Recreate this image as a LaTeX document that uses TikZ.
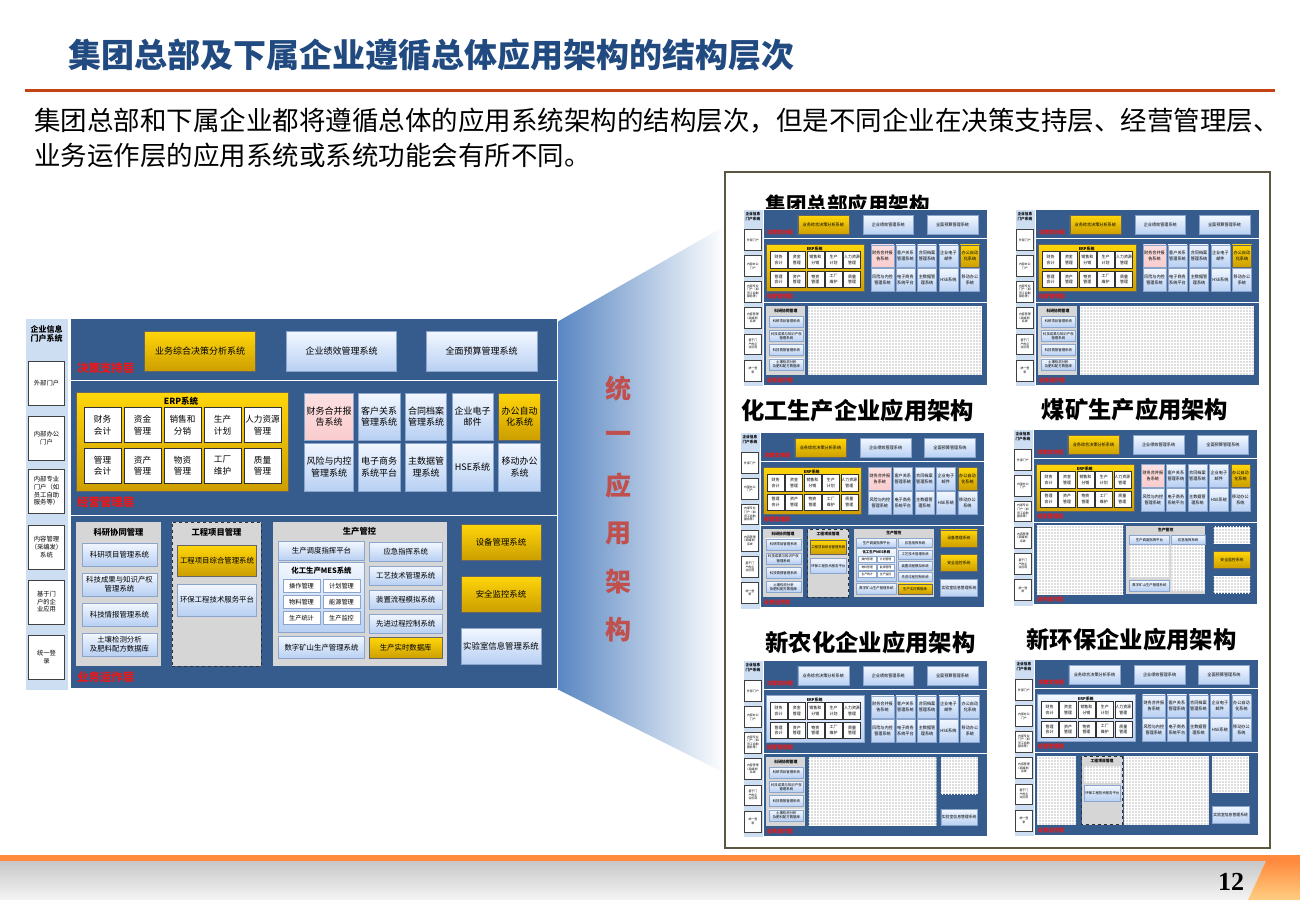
\documentclass[tikz,border=0pt]{standalone}
\usepackage{fontspec}
\setmainfont{Noto Sans CJK SC}
\newfontfamily\numfont{Liberation Serif}
\usetikzlibrary{shapes,arrows,patterns}

\definecolor{titleblue}{RGB}{33,74,128}
\definecolor{rulered}{RGB}{196,66,18}
\definecolor{panelblue}{RGB}{54,92,141}
\definecolor{stripblue}{RGB}{205,222,243}
\definecolor{boxtop}{RGB}{242,247,255}
\definecolor{boxbot}{RGB}{184,208,243}
\definecolor{boxedge}{RGB}{140,165,205}
\definecolor{goldtop}{RGB}{255,214,10}
\definecolor{goldbot}{RGB}{204,158,0}
\definecolor{pinkfill}{RGB}{250,204,206}
\definecolor{groupgrey}{RGB}{214,214,214}
\definecolor{layerred}{RGB}{232,24,24}
\definecolor{wedgeblue}{RGB}{88,134,194}
\definecolor{slogan}{RGB}{192,80,77}
\definecolor{framecol}{RGB}{92,86,66}
\definecolor{footorange}{RGB}{255,138,62}
\definecolor{footlight}{RGB}{255,206,130}

\tikzstyle{panelbox} = [rectangle, draw=white, line width=1, fill=panelblue, inner sep=0]
\tikzstyle{stripbox} = [rectangle, fill=stripblue, draw=white, inner sep=0]
\tikzstyle{portalbox} = [rectangle, draw=black!75, fill=white, align=center, inner sep=0,
    minimum width=36, minimum height=44, font=\fontsize{6.3}{7.6}\selectfont]
\tikzstyle{sysbox} = [rectangle, draw=boxedge, top color=boxtop, bottom color=boxbot,
    align=center, inner sep=0.5, font=\fontsize{9}{11.5}\selectfont]
\tikzstyle{goldbox} = [sysbox, draw=black!60, top color=goldtop, bottom color=goldbot]
\tikzstyle{pinkbox} = [sysbox, top color=pinkfill!60, bottom color=pinkfill]
\tikzstyle{cellbox} = [rectangle, draw=black!80, fill=white, align=center, inner sep=0,
    minimum width=37, minimum height=35, font=\fontsize{8.6}{11.5}\selectfont]
\tikzstyle{groupbox} = [rectangle, fill=groupgrey, inner sep=0]
\tikzstyle{grouptitle} = [font=\bfseries\fontsize{8.3}{10}\selectfont]
\tikzstyle{layerlabel} = [anchor=base west, inner sep=0, text=layerred,
    font=\bfseries\fontsize{11.4}{12}\selectfont]
\tikzstyle{smallsys} = [font=\fontsize{7.4}{9.2}\selectfont]
\tikzstyle{midsys} = [font=\fontsize{8.4}{10}\selectfont]
\tikzstyle{hatchbox} = [rectangle, inner sep=0, preaction={fill=black!13}, pattern=grid, pattern color=white]
\tikzstyle{headline} = [anchor=base, font=\bfseries\fontsize{23.3}{26}\selectfont]

% portal column, the three layers, decision support and operation management
\newcommand{\archtop}[3]{%
  \node[stripbox, minimum width=43, minimum height=372] (#1strip) at (46.5,504) {};
  \node[align=center, font=\bfseries\fontsize{8}{9.5}\selectfont] (#1ptitle) at (46.5,334) {企业信息\\门户系统};
  \node[portalbox] (#1pa) at (46.5,383) {外部门户};
  \node[portalbox] (#1pb) at (46.5,438) {内部办公\\门户};
  \node[portalbox] (#1pc) at (46.5,491) {内部专业\\门户（如\\员工自助\\服务等）};
  \node[portalbox] (#1pd) at (46.5,547) {内容管理\\（采编发）\\系统};
  \node[portalbox] (#1pe) at (46.5,602) {基于门\\户的企\\业应用};
  \node[portalbox] (#1pf) at (46.5,657) {统一登\\录};
  \node[panelbox, minimum width=487, minimum height=62] (#1lay1) at (313.5,349) {};
  \node[panelbox, minimum width=487, minimum height=135] (#1lay2) at (313.5,447.5) {};
  \node[panelbox, minimum width=487, minimum height=173] (#1lay3) at (313.5,601.5) {};
  \node[layerlabel] (#1lab1) at (77,372.5) {决策支持层};
  \node[layerlabel] (#1lab2) at (77,506.5) {经营管理层};
  \node[layerlabel] (#1lab3) at (77,681.5) {业务运作层};
  \node[#2, minimum width=111, minimum height=40] (#1dss) at (200,351.5) {业务综合决策分析系统};
  \node[sysbox, minimum width=110, minimum height=40] (#1kpi) at (341.5,351.5) {企业绩效管理系统};
  \node[sysbox, minimum width=111, minimum height=40] (#1budget) at (481.5,351.5) {全面预算管理系统};
  \node[#2, minimum width=212, minimum height=99] (#1erp) at (182,442) {};
  \node[font=\bfseries\fontsize{8.5}{10}\selectfont] (#1erpname) at (181,401.5) {ERP系统};
  \foreach \txt [count=\n] in {财务\\会计,资金\\管理,销售和\\分销,生产\\计划,人力资源\\管理}
    \node[cellbox] (#1erpa\n) at (62.5+40*\n,425) {\txt};
  \foreach \txt [count=\n] in {管理\\会计,资产\\管理,物资\\管理,工厂\\维护,质量\\管理}
    \node[cellbox] (#1erpb\n) at (62.5+40*\n,465.5) {\txt};
  \node[#3, minimum width=49, minimum height=47] (#1fin) at (329,416.5) {财务合并报\\告系统};
  \node[sysbox, minimum width=42, minimum height=47] (#1crm) at (379,416.5) {客户关系\\管理系统};
  \node[sysbox, minimum width=41, minimum height=47] (#1doc) at (426,416.5) {合同档案\\管理系统};
  \node[sysbox, minimum width=41, minimum height=47] (#1mail) at (472.5,416.5) {企业电子\\邮件};
  \node[#2, minimum width=42, minimum height=47] (#1oa) at (519.5,416.5) {办公自动\\化系统};
  \node[sysbox, minimum width=49, minimum height=48] (#1risk) at (329,467) {风险与内控\\管理系统};
  \node[sysbox, minimum width=42, minimum height=48] (#1ec) at (379,467) {电子商务\\系统平台};
  \node[sysbox, minimum width=41, minimum height=48] (#1mdm) at (426,467) {主数据管\\理系统};
  \node[sysbox, minimum width=41, minimum height=48] (#1hse) at (472.5,467) {HSE系统};
  \node[sysbox, minimum width=42, minimum height=48] (#1mob) at (519.5,467) {移动办公\\系统};
}

\newcommand{\rndgroup}[1]{%
  \node[groupbox, minimum width=85, minimum height=144] (#1rnd) at (118.5,594) {};
  \node[grouptitle] (#1rndname) at (118.5,532) {科研协同管理};
  \node[sysbox, smallsys, minimum width=75, minimum height=23] (#1rnda) at (119.5,554.5) {科研项目管理系统};
  \node[sysbox, smallsys, minimum width=75, minimum height=23] (#1rndb) at (119.5,584.5) {科技成果与知识产权\\管理系统};
  \node[sysbox, smallsys, minimum width=75, minimum height=23] (#1rndc) at (119.5,614.5) {科技情报管理系统};
  \node[sysbox, smallsys, minimum width=75, minimum height=23] (#1rndd) at (119.5,644.5) {土壤检测分析\\及肥料配方数据库};
}

\newcommand{\enggroup}[1]{%
  \node[groupbox, draw=black!80, dashed, minimum width=89, minimum height=144] (#1eng) at (216.5,594) {};
  \node[grouptitle] (#1engname) at (216.5,532) {工程项目管理};
  \node[goldbox, smallsys, minimum width=79, minimum height=31] (#1enga) at (217,560.5) {工程项目综合管理系统};
  \node[sysbox, smallsys, minimum width=79, minimum height=32] (#1engb) at (217,600) {环保工程技术服务平台};
}

\newcommand{\prodgroup}[1]{%
  \node[groupbox, minimum width=174, minimum height=144] (#1prod) at (359.5,594) {};
  \node[grouptitle] (#1prodname) at (359.5,531.5) {生产管控};
  \node[sysbox, smallsys, minimum width=86, minimum height=19] (#1dispatch) at (321.5,551) {生产调度指挥平台};
  \node[sysbox, minimum width=86, minimum height=70] (#1mes) at (321.5,597.5) {};
  \node[font=\bfseries\fontsize{7.4}{9}\selectfont] (#1mesname) at (321.5,571) {化工生产MES系统};
  \foreach \txt [count=\n] in {操作管理,物料管理,生产统计}
    \node[cellbox, draw=boxedge, minimum width=37, minimum height=13, font=\fontsize{6.2}{7}\selectfont] (#1mesa\n) at (301.5,570+16*\n) {\txt};
  \foreach \txt [count=\n] in {计划管理,能源管理,生产监控}
    \node[cellbox, draw=boxedge, minimum width=37, minimum height=13, font=\fontsize{6.2}{7}\selectfont] (#1mesb\n) at (341.5,570+16*\n) {\txt};
  \node[sysbox, smallsys, minimum width=86, minimum height=22] (#1mine) at (321.5,647.5) {数字矿山生产管理系统};
  \foreach \txt [count=\n] in {应急指挥系统,工艺技术管理系统,装置流程模拟系统,先进过程控制系统}
    \node[sysbox, smallsys, minimum width=73, minimum height=19] (#1proc\n) at (405.7,527.5+24*\n) {\txt};
  \node[goldbox, smallsys, minimum width=73, minimum height=21] (#1rtdb) at (405.7,648) {生产实时数据库};
}

\newcommand{\rightcol}[1]{%
  \node[goldbox, midsys, minimum width=80, minimum height=36] (#1equip) at (501,542) {设备管理系统};
  \node[goldbox, midsys, minimum width=80, minimum height=36] (#1safety) at (501,594) {安全监控系统};
  \node[sysbox, midsys, minimum width=80, minimum height=36] (#1lims) at (501,646) {实验室信息管理系统};
}

\begin{document}
\begin{tikzpicture}[x=1pt, y=-1pt]
	\useasboundingbox (0,0) rectangle (1300,900);
	\fill[white] (0,0) rectangle (1300,900);

	% heading
	\node[anchor=base west, inner sep=0, text=titleblue, font=\bfseries\fontsize{33}{36}\selectfont] (title) at (68,67.5) {集团总部及下属企业遵循总体应用架构的结构层次};
	\draw[rulered, line width=3] (25,90) -- (1275,90);
	\node[anchor=base west, inner sep=0, font=\fontsize{26.5}{30}\selectfont] (introa) at (34,130) {集团总部和下属企业都将遵循总体的应用系统架构的结构层次，但是不同企业在决策支持层、经营管理层、};
	\node[anchor=base west, inner sep=0, font=\fontsize{26.5}{30}\selectfont] (introb) at (34,165) {业务运作层的应用系统或系统功能会有所不同。};

	% wedge and slogan
	\shade[left color=wedgeblue, right color=white] (557,322) -- (725,226) -- (725,773) -- (557,689) -- cycle;
	\foreach \txt [count=\n] in {统,一,应,用,架,构}
		\node[text=slogan, font=\bfseries\fontsize{26}{28}\selectfont] (slogan\n) at (618.5,340.5+48.2*\n) {\txt};

	% main architecture
	\archtop{}{goldbox}{pinkbox}
	\rndgroup{}
	\enggroup{}
	\prodgroup{}
	\rightcol{}

	% frame with the six enterprise variants
	\node[rectangle, draw=framecol, line width=1.5, fill=white, minimum width=545, minimum height=676, inner sep=0] (frame) at (997.5,510) {};
	\node[anchor=base, font=\bfseries\fontsize{20.5}{22}\selectfont] (hqname) at (847.5,212) {集团总部应用架构};
	\node[headline] (chemname) at (857.5,419.7) {化工生产企业应用架构};
	\node[headline] (coalname) at (1135,418.7) {煤矿生产应用架构};
	\node[headline] (agriname) at (870.5,651.7) {新农化企业应用架构};
	\node[headline] (econame) at (1131.5,648.7) {新环保企业应用架构};

	\begin{scope}[shift={(743,209)}, xscale=0.459, yscale=0.476, shift={(-25,-318)}, transform shape]
		\archtop{ta}{goldbox}{pinkbox}
		\rndgroup{ta}
		\node[hatchbox, minimum width=378, minimum height=144] (tahatch) at (356.5,594) {};
	\end{scope}
	\begin{scope}[shift={(1015,209)}, xscale=0.459, yscale=0.476, shift={(-25,-318)}, transform shape]
		\archtop{tb}{goldbox}{pinkbox}
		\rndgroup{tb}
		\node[hatchbox, minimum width=378, minimum height=144] (tbhatch) at (356.5,594) {};
	\end{scope}
	\begin{scope}[shift={(740,432)}, xscale=0.46, yscale=0.475, shift={(-25,-318)}, transform shape]
		\archtop{tc}{goldbox}{pinkbox}
		\rndgroup{tc}
		\enggroup{tc}
		\prodgroup{tc}
		\rightcol{tc}
	\end{scope}
	\begin{scope}[shift={(1013,429)}, xscale=0.46, yscale=0.475, shift={(-25,-318)}, transform shape]
		\archtop{td}{goldbox}{pinkbox}
		\node[hatchbox, minimum width=188, minimum height=144] (tdhatcha) at (171,594) {};
		\node[groupbox, minimum width=172, minimum height=144] (tdprod) at (357,594) {};
		\node[grouptitle] (tdprodname) at (357,531.5) {生产管控};
		\node[sysbox, smallsys, minimum width=86, minimum height=19] (tddispatch) at (321.5,551) {生产调度指挥平台};
		\node[sysbox, smallsys, minimum width=73, minimum height=19] (tdproc1) at (405.7,551) {应急指挥系统};
		\node[hatchbox, minimum width=86, minimum height=66] (tdhatchb) at (321.5,596.5) {};
		\node[sysbox, smallsys, minimum width=86, minimum height=22] (tdmine) at (321.5,647.5) {数字矿山生产管理系统};
		\node[hatchbox, minimum width=73, minimum height=96] (tdhatchc) at (405.7,611) {};
		\node[hatchbox, minimum width=80, minimum height=36] (tdhatchd) at (501,542) {};
		\node[goldbox, midsys, minimum width=80, minimum height=36] (tdsafety) at (501,594) {安全监控系统};
		\node[hatchbox, minimum width=80, minimum height=36] (tdhatche) at (501,646) {};
	\end{scope}
	\begin{scope}[shift={(743,660)}, xscale=0.459, yscale=0.476, shift={(-25,-318)}, transform shape]
		\archtop{te}{sysbox}{sysbox}
		\rndgroup{te}
		\node[hatchbox, minimum width=278, minimum height=144] (tehatcha) at (307,594) {};
		\node[hatchbox, minimum width=80, minimum height=78] (tehatchb) at (496,561) {};
		\node[sysbox, midsys, minimum width=80, minimum height=33] (telims) at (496,648.5) {实验室信息管理系统};
	\end{scope}
	\begin{scope}[shift={(1014,659)}, xscale=0.46, yscale=0.476, shift={(-25,-318)}, transform shape]
		\archtop{tf}{sysbox}{sysbox}
		\node[hatchbox, minimum width=85, minimum height=144] (tfhatcha) at (117.5,594) {};
		\enggroup{tf}
		\node[hatchbox, minimum width=79, minimum height=33] (tfhatchb) at (217,561) {};
		\node[hatchbox, minimum width=184, minimum height=144] (tfhatchc) at (356,594) {};
		\node[hatchbox, minimum width=80, minimum height=76] (tfhatchd) at (496,560) {};
		\node[sysbox, midsys, minimum width=80, minimum height=36] (tflims) at (496,645) {实验室信息管理系统};
	\end{scope}

	% footer
	\fill[footorange] (0,855) rectangle (1300,861);
	\shade[top color=black!22, bottom color=black!4] (0,861) -- (1266,861) -- (1248,900) -- (0,900) -- cycle;
	\shade[top color=footorange, bottom color=footlight] (1266,861) -- (1300,861) -- (1300,900) -- (1248,900) -- cycle;
	\node[font=\numfont\bfseries\fontsize{26}{26}\selectfont] (pageno) at (1231,882) {12};
\end{tikzpicture}
\end{document}
